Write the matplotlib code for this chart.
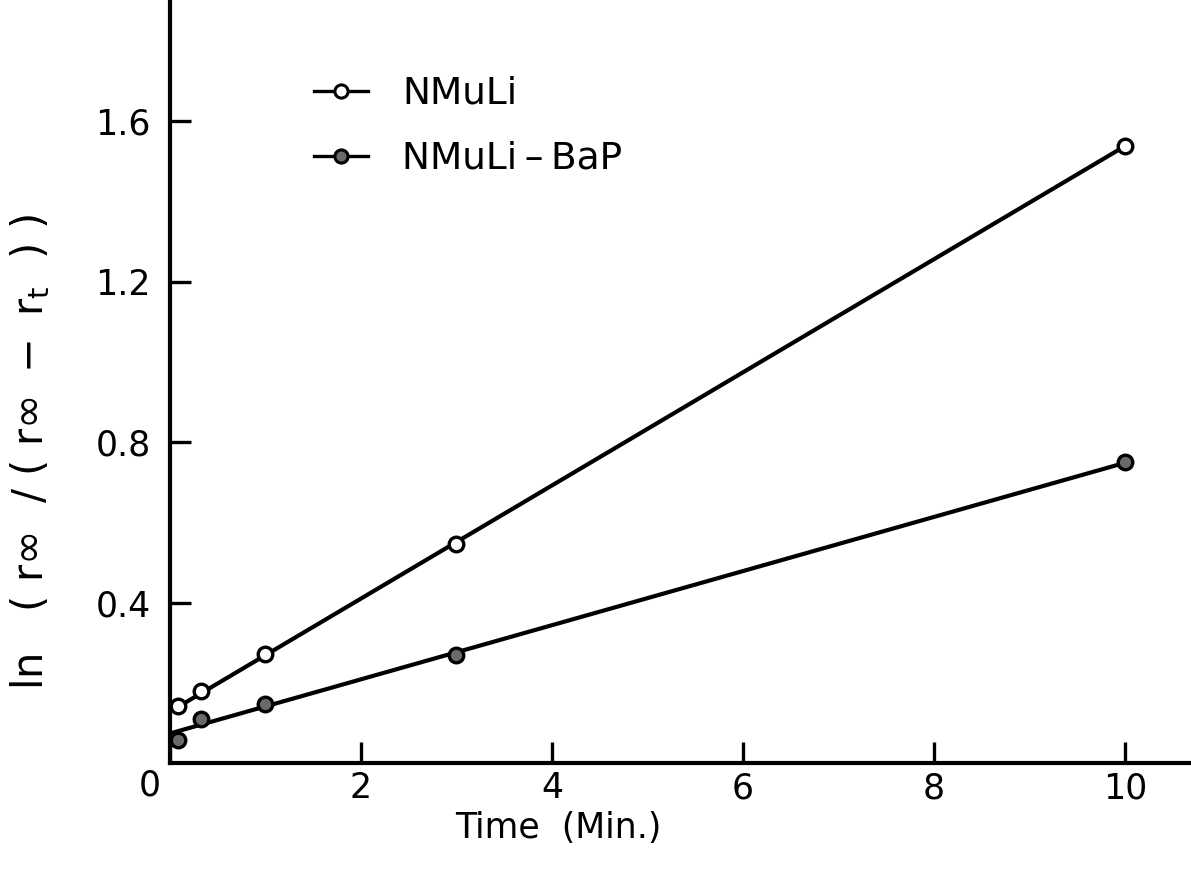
import numpy as np
import matplotlib
matplotlib.use("Agg")
import matplotlib.pyplot as plt
from matplotlib.transforms import blended_transform_factory

# Time points (min) and ln(r_inf/(r_inf - r_t)) for each cell line
time_min = [0.08, 0.33, 1.0, 3.0, 10.0]
nmuli = [0.142, 0.180, 0.272, 0.546, 1.540]
nmuli_bap = [0.057, 0.110, 0.147, 0.270, 0.750]

series_labels = ["NMuLi", "NMuLi\u2009\u2013\u2009BaP"]
x_ticks = [0, 2, 4, 6, 8, 10]
y_ticks = [0.4, 0.8, 1.2, 1.6]

plt.rcParams["font.family"] = ["DejaVu Sans"]
plt.rcParams["mathtext.fontset"] = "dejavusans"

fig = plt.figure(figsize=(11.91, 8.77), dpi=100)
ax = fig.add_axes([0.1427, 0.13, 0.8573, 0.87])

x = np.asarray(time_min)
fit_x = np.array([0.0, 10.0])

styles = [
    dict(mfc="white", mec="black"),
    dict(mfc="#6a6a6a", mec="black"),
]

for ys, lab, st in zip([nmuli, nmuli_bap], series_labels, styles):
    ys = np.asarray(ys)
    slope, icpt = np.polyfit(x, ys, 1, w=np.where(x >= 1, 3.0, 1.0))
    ax.plot(fit_x, icpt + slope * fit_x, color="black", lw=3.0,
            solid_capstyle="round", zorder=2)
    ax.plot(x, ys, linestyle="none", marker="o", ms=10.5, mew=2.4,
            zorder=3, **st)
    # legend proxy
    ax.plot([], [], color="black", lw=2.4, marker="o", ms=9.5, mew=2.2,
            label=lab, **st)

ax.set_xlim(0, 10.69)
ax.set_ylim(0, 1.903)

for side in ("top", "right"):
    ax.spines[side].set_visible(False)
for side in ("left", "bottom"):
    ax.spines[side].set_linewidth(3.0)

ax.set_xticks(x_ticks)
ax.set_xticklabels([""] + [str(t) for t in x_ticks[1:]])
ax.set_yticks(y_ticks)
ax.set_yticklabels([f"{t:.1f}" for t in y_ticks])
ax.tick_params(axis="both", direction="in", length=15, width=2.4,
               labelsize=25)
ax.tick_params(axis="x", pad=6)
ax.tick_params(axis="y", pad=14)

# origin label sits slightly left of the axis corner
trans = blended_transform_factory(ax.transData, ax.transAxes)
ax.text(-0.21, -0.029, "0", transform=trans, ha="center", va="center",
        fontsize=25)

ax.text(0.38, -0.085, "Time  (Min.)", transform=ax.transAxes,
        ha="center", va="center", fontsize=25)
ax.text(-0.137, 0.408,
        r"$\mathregular{ln\ \ \ (\ r\infty\ \ /\ (\ r\infty\ -\ r_{t}\ \ )\ )}$",
        transform=ax.transAxes, rotation=90, ha="center", va="center",
        fontsize=30)

leg = ax.legend(loc="upper left", bbox_to_anchor=(0.108, 0.945),
                frameon=False, fontsize=27, handlelength=1.45,
                handletextpad=0.9, labelspacing=0.78)

fig.savefig("out.png", dpi=100, facecolor="white")
